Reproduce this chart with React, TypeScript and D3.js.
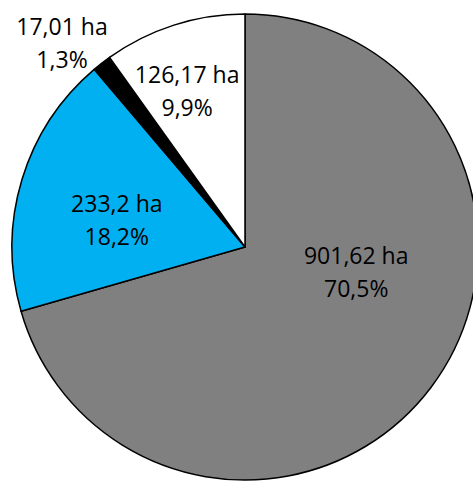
import { useEffect, useRef } from "react";
import * as d3 from "d3";

const categories = ["grey", "blue", "black", "white"];
const areas = [901.62, 233.2, 17.01, 126.17];
const areaLabels = ["901,62 ha", "233,2 ha", "17,01 ha", "126,17 ha"];
const percentLabels = ["70,5%", "18,2%", "1,3%", "9,9%"];
const colors = ["#808080", "#00B0F0", "#000000", "#FFFFFF"];

// where Excel put each label: angle (deg, clockwise from 12 o'clock) and distance from centre
const labelAngles = [102.7, 281.9, 318.1, 339.6];
const labelRadii = [114, 131, 274, 166];

const App = () => {
  const svgRef = useRef<SVGSVGElement>(null);

  useEffect(() => {
    const svg = d3.select(svgRef.current);
    svg.selectAll("*").remove();

    const width = 473;
    const height = 481;
    const cx = 245;
    const cy = 247;
    const radius = 233;

    const g = svg.append("g").attr("transform", `translate(${cx}, ${cy})`);

    const data = categories.map((c, i) => ({ name: c, value: areas[i], color: colors[i] }));
    const pie = d3
      .pie<any>()
      .sort(null)
      .value((d) => d.value);
    const arc = d3.arc<any>().innerRadius(0).outerRadius(radius);

    g.selectAll("path")
      .data(pie(data))
      .enter()
      .append("path")
      .attr("d", arc)
      .attr("fill", (d) => d.data.color)
      .attr("stroke", "#000")
      .attr("stroke-width", 1.5)
      .attr("stroke-linejoin", "round");

    const labels = g
      .selectAll("text")
      .data(pie(data))
      .enter()
      .append("text")
      .attr("text-anchor", "middle")
      .attr("font-family", "'Open Sans', sans-serif")
      .attr("font-size", 23)
      .attr("fill", "#000")
      .attr("transform", (_d, i) => {
        const a = (labelAngles[i] * Math.PI) / 180;
        const x = labelRadii[i] * Math.sin(a);
        const y = -labelRadii[i] * Math.cos(a);
        return `translate(${x}, ${y})`;
      });

    labels
      .append("tspan")
      .attr("x", 0)
      .attr("y", -8)
      .text((_d, i) => areaLabels[i]);
    labels
      .append("tspan")
      .attr("x", 0)
      .attr("y", 25)
      .text((_d, i) => percentLabels[i]);

    svg.attr("width", width).attr("height", height);
  }, []);

  return (
    <svg
      ref={svgRef}
      width={473}
      height={481}
      style={{ position: "absolute", left: 0, top: 0, background: "#fff" }}
    />
  );
};

export default App;
